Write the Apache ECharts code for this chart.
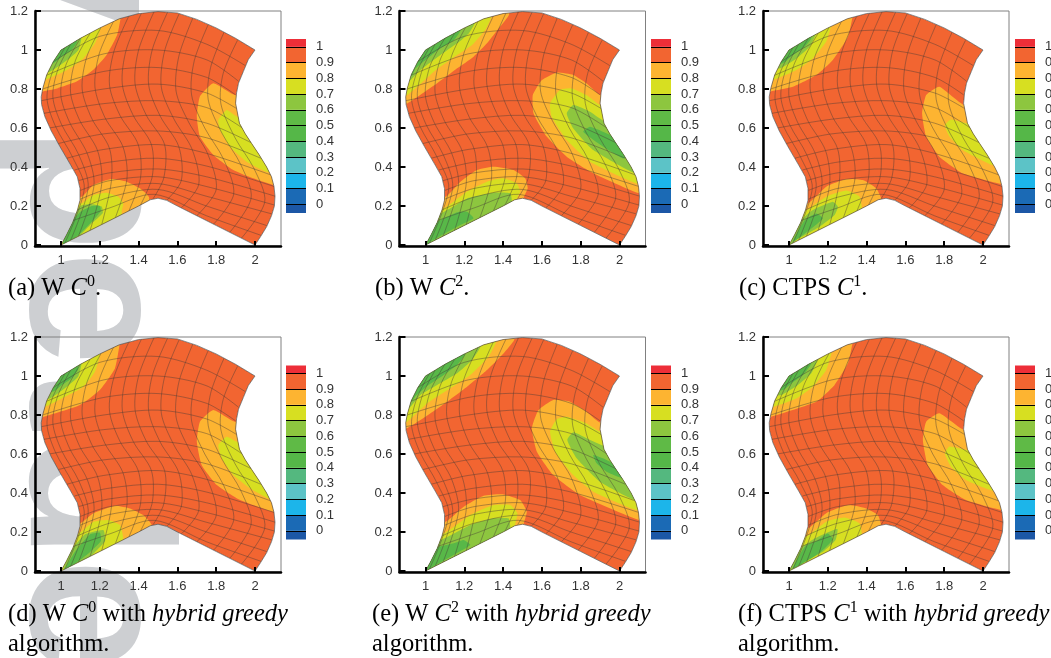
<!DOCTYPE html>
<html><head><meta charset="utf-8"><style>html,body{margin:0;padding:0;background:#fff}#c{width:1051px;height:658px}</style>
<script src="https://cdn.jsdelivr.net/npm/echarts@6/dist/echarts.min.js"></script></head><body><div id="c"></div>
<script>
const xTicks=[1,1.2,1.4,1.6,1.8,2];
const yTicks=[0,0.2,0.4,0.6,0.8,1,1.2];
const legendLevels=[0,0.1,0.2,0.3,0.4,0.5,0.6,0.7,0.8,0.9,1];
const legendBands=[[-0.055,0,'#1c57a6'],[0,0.1,'#1b6ab5'],[0.1,0.2,'#1cb5ea'],[0.2,0.3,'#5cc3c7'],[0.3,0.4,'#54b87f'],[0.4,0.5,'#55b748'],[0.5,0.6,'#5fba46'],[0.6,0.7,'#8dc63f'],[0.7,0.8,'#d7df21'],[0.8,0.9,'#fdb431'],[0.9,1,'#f26531'],[1,1.05,'#ed2e38']];
const levelColors={o:'#fdb431',y:'#d7df21',l:'#8dc63f',g:'#58b848'};
const baseColor='#f26531';
const outlineTop=[[1,1],[1.05,1.03],[1.1,1.06],[1.2,1.113],[1.3,1.16],[1.4,1.187],[1.5,1.197],[1.6,1.19],[1.7,1.157],[1.8,1.113],[1.9,1.06]];
const outlineRight=[[2,1],[1.965,.95],[1.94,.89],[1.915,.83],[1.905,.78],[1.9,.727],[1.92,.624],[1.95,.57],[1.983,.52],[2.02,.465],[2.06,.4],[2.085,.35],[2.098,.30],[2.103,.25],[2.10,.2],[2.085,.15],[2.06,.094],[2.03,.045]];
const outlineBottom=[[2,0],[1.8,.1],[1.6,.2],[1.545,.229],[1.5,.24],[1.46,.232],[1.4,.2],[1.2,.1]];
const outlineLeft=[[1,0],[1.03,.055],[1.06,.115],[1.085,.18],[1.098,.23],[1.098,.29],[1.084,.35],[1.05,.41],[.995,.504],[.95,.585],[.917,.658],[.9,.72],[.898,.76],[.906,.803],[.926,.872],[.96,.94]];
const meshRows=[
[[.96,.94],[1.2,1.07],[1.5,1.10],[1.75,1.03],[1.95,.92]],
[[.925,.87],[1.22,.98],[1.5,1.0],[1.75,.95],[1.915,.84]],
[[.905,.80],[1.22,.89],[1.5,.91],[1.75,.86],[1.90,.77]],
[[.898,.74],[1.22,.80],[1.5,.825],[1.75,.78],[1.905,.70]],
[[.91,.675],[1.22,.725],[1.5,.74],[1.75,.705],[1.935,.60]],
[[.94,.60],[1.22,.645],[1.5,.665],[1.75,.625],[1.98,.525]],
[[.985,.52],[1.22,.57],[1.5,.585],[1.75,.55],[2.03,.445]],
[[1.03,.445],[1.22,.49],[1.5,.515],[1.75,.47],[2.08,.36]],
[[1.07,.385],[1.25,.425],[1.5,.445],[1.75,.405],[2.10,.30]],
[[1.09,.33],[1.25,.37],[1.5,.39],[1.75,.35],[2.105,.25]],
[[1.10,.28],[1.25,.33],[1.5,.35],[1.75,.30],[2.10,.205]],
[[1.10,.235],[1.25,.29],[1.5,.315],[1.75,.25],[2.085,.16]],
[[1.085,.18],[1.25,.245],[1.5,.285],[1.75,.20],[2.06,.10]],
[[1.06,.125],[1.25,.19],[1.48,.26],[1.75,.15],[2.03,.05]]];
const meshCols=[
[[1.02,1.012],[.955,.885],[.928,.75],[.971,.61],[1.06,.45],[1.12,.29],[1.02,.01]],
[[1.05,1.03],[.984,.90],[.958,.76],[1.002,.62],[1.093,.46],[1.14,.295],[1.05,.025]],
[[1.10,1.06],[1.024,.92],[.999,.77],[1.044,.63],[1.135,.47],[1.17,.305],[1.09,.045]],
[[1.15,1.085],[1.074,.945],[1.049,.785],[1.096,.64],[1.188,.485],[1.21,.315],[1.15,.075]],
[[1.205,1.113],[1.133,.965],[1.109,.80],[1.158,.65],[1.25,.495],[1.26,.33],[1.21,.105]],
[[1.27,1.145],[1.197,.98],[1.175,.81],[1.226,.655],[1.319,.505],[1.34,.34],[1.28,.14]],
[[1.35,1.175],[1.272,.99],[1.25,.82],[1.304,.665],[1.398,.515],[1.41,.345],[1.35,.175]],
[[1.415,1.19],[1.336,1.0],[1.316,.825],[1.372,.665],[1.466,.515],[1.47,.35],[1.41,.205]],
[[1.48,1.197],[1.40,1.0],[1.382,.825],[1.44,.665],[1.534,.515],[1.53,.345],[1.475,.238]],
[[1.55,1.195],[1.47,1.0],[1.452,.82],[1.512,.66],[1.607,.505],[1.62,.33],[1.545,.23]],
[[1.61,1.188],[1.534,.995],[1.517,.81],[1.58,.65],[1.676,.49],[1.71,.31],[1.62,.19]],
[[1.68,1.165],[1.608,.97],[1.593,.79],[1.658,.63],[1.755,.47],[1.80,.285],[1.70,.15]],
[[1.76,1.133],[1.687,.945],[1.673,.77],[1.741,.60],[1.838,.44],[1.89,.26],[1.785,.105]],
[[1.84,1.09],[1.771,.91],[1.759,.745],[1.829,.575],[1.928,.41],[1.98,.24],[1.87,.065]],
[[1.91,1.05],[1.836,.88],[1.824,.725],[1.897,.55],[1.996,.39],[2.05,.22],[1.93,.035]]];
const bandsA=[
['o','T',[[1.31,1.18],[1.29,1.08],[1.235,.975],[1.165,.897],[1.08,.838],[.98,.803],[.89,.785]]],
['y','T',[[1.21,1.13],[1.175,1.034],[1.115,.957],[1.03,.897],[.918,.846]]],
['l','T',[[1.107,1.07],[1.09,1.0],[1.038,.952],[.943,.889]]],
['g','T',[[1.084,1.043],[1.055,1.0],[1.003,.966],[.96,.932]]],
['o','R',[[1.897,.769],[1.785,.829],[1.716,.761],[1.70,.658],[1.716,.556],[1.785,.462],[1.888,.385],[1.991,.342],[2.095,.308]]],
['y','R',[[1.909,.658],[1.854,.692],[1.811,.641],[1.82,.59],[1.871,.504],[1.957,.427],[2.06,.376]]],
['o','B',[[1.107,.248],[1.167,.308],[1.261,.338],[1.338,.325],[1.407,.291],[1.454,.244]]],
['y','B',[[1.107,.214],[1.167,.256],[1.235,.268],[1.296,.248],[1.321,.214],[1.313,.171]]],
['l','C',[[1.15,.21],[1.21,.197],[1.215,.163],[1.158,.111],[1.09,.043],[1.012,0],[1.055,.13],[1.1,.2]]],
['g','C',[[1.16,.2],[1.2,.2],[1.205,.175],[1.16,.12],[1.09,.05],[1.01,.005],[1.04,.1],[1.1,.17]]]];
const bandsB=[
['o','T',[[1.43,1.18],[1.385,1.12],[1.317,1.034],[1.248,.966],[1.163,.906],[1.06,.829],[.906,.726]]],
['y','T',[[1.339,1.168],[1.308,1.103],[1.24,1.026],[1.163,.974],[1.043,.889],[.906,.769]]],
['l','T',[[1.257,1.145],[1.223,1.085],[1.163,1.034],[1.077,.974],[.974,.897],[.914,.838]]],
['g','T',[[1.18,1.10],[1.146,1.05],[1.077,1.009],[1.0,.949],[.949,.906],[.93,.87]]],
['o','R',[[1.902,.769],[1.83,.829],[1.762,.872],[1.676,.884],[1.6,.846],[1.553,.769],[1.557,.675],[1.625,.556],[1.728,.453],[1.865,.368],[2.1,.265]]],
['y','R',[[1.902,.718],[1.83,.769],[1.753,.803],[1.693,.795],[1.642,.726],[1.65,.658],[1.728,.538],[1.848,.427],[2.087,.316]]],
['l','R',[[1.93,.632],[1.848,.684],[1.762,.718],[1.728,.675],[1.762,.598],[1.865,.487],[2.079,.368]]],
['g','C',[[1.848,.607],[1.967,.556],[2.06,.47],[2.019,.444],[1.916,.504],[1.813,.581]]],
['o','B',[[1.103,.248],[1.18,.325],[1.265,.385],[1.351,.402],[1.454,.385],[1.514,.342],[1.527,.291],[1.505,.239]]],
['y','B',[[1.094,.188],[1.214,.274],[1.317,.325],[1.402,.342],[1.471,.316],[1.488,.274],[1.471,.234]]],
['l','B',[[1.077,.162],[1.214,.239],[1.351,.268],[1.437,.265],[1.445,.226]]],
['g','C',[[1.051,.111],[1.163,.168],[1.214,.171],[1.248,.137],[1.163,.094],[1.026,.017],[1,-.01]]]];
const bandsC=[
['o','T',[[1.329,1.18],[1.304,1.068],[1.226,.949],[1.141,.872],[1.02,.812],[.89,.786]]],
['y','T',[[1.218,1.13],[1.192,1.043],[1.123,.957],[1.038,.897],[.918,.846]]],
['l','T',[[1.141,1.09],[1.106,1.017],[1.038,.957],[.952,.906]]],
['g','T',[[1.115,1.06],[1.081,1.017],[1.02,.974],[.969,.932]]],
['o','R',[[1.904,.718],[1.775,.812],[1.707,.769],[1.686,.675],[1.707,.556],[1.775,.453],[1.895,.368],[2.093,.313]]],
['y','R',[[1.921,.624],[1.835,.644],[1.804,.615],[1.827,.556],[1.895,.487],[2.05,.41]]],
['o','B',[[1.098,.214],[1.192,.299],[1.295,.338],[1.381,.333],[1.449,.291],[1.475,.239]]],
['y','B',[[1.089,.18],[1.192,.248],[1.295,.279],[1.364,.248],[1.376,.188]]],
['l','C',[[1.063,.128],[1.123,.18],[1.226,.222],[1.252,.197],[1.235,.154],[1.158,.094],[1.038,.026],[1,-.01]]],
['g','C',[[1.081,.128],[1.141,.162],[1.175,.137],[1.106,.077],[1.02,.017]]]];
const bandsD=[
['o','T',[[1.304,1.176],[1.278,1.039],[1.2,.928],[1.098,.851],[.89,.785]]],
['y','T',[[1.206,1.13],[1.175,1.022],[1.115,.945],[1.021,.894],[.918,.843]]],
['l','T',[[1.107,1.07],[1.089,.997],[1.03,.945],[.943,.885]]],
['g','T',[[1.089,1.036],[1.055,.988],[1.0,.95],[.96,.92]]],
['o','R',[[1.897,.766],[1.785,.826],[1.716,.766],[1.70,.663],[1.725,.544],[1.803,.441],[1.923,.364],[2.095,.304]]],
['y','R',[[1.909,.663],[1.854,.689],[1.811,.646],[1.828,.578],[1.888,.492],[1.974,.424],[2.069,.373]]],
['o','B',[[1.098,.244],[1.167,.296],[1.278,.335],[1.356,.321],[1.424,.287],[1.467,.236]]],
['y','B',[[1.09,.193],[1.167,.253],[1.244,.262],[1.304,.236],[1.321,.168]]],
['l','C',[[1.124,.188],[1.218,.21],[1.227,.154],[1.14,.065],[1.012,0],[1.055,.108]]],
['g','C',[[1.15,.188],[1.2,.197],[1.206,.154],[1.132,.082],[1.02,.005],[1.072,.099]]]];
const bandsE=[
['o','T',[[1.457,1.185],[1.402,1.116],[1.317,1.031],[1.214,.945],[1.077,.843],[.906,.732]]],
['y','T',[[1.363,1.173],[1.325,1.099],[1.231,1.005],[1.128,.937],[1.009,.86],[.906,.766]]],
['l','T',[[1.283,1.15],[1.24,1.082],[1.163,1.014],[1.06,.954],[.974,.903],[.914,.834]]],
['g','T',[[1.205,1.116],[1.163,1.056],[1.094,1.005],[1.009,.949],[.949,.897],[.93,.87]]],
['o','R',[[1.902,.761],[1.83,.817],[1.745,.868],[1.659,.877],[1.582,.825],[1.548,.732],[1.574,.612],[1.659,.492],[1.796,.39],[2.1,.262]]],
['y','R',[[1.902,.715],[1.83,.757],[1.728,.791],[1.676,.778],[1.642,.715],[1.668,.612],[1.762,.492],[1.865,.407],[2.087,.313]]],
['l','R',[[1.925,.641],[1.848,.672],[1.762,.711],[1.731,.672],[1.779,.578],[1.899,.458],[2.079,.364]]],
['g','C',[[1.865,.595],[1.95,.561],[2.04,.467],[1.933,.509],[1.882,.552]]],
['o','B',[[1.103,.253],[1.197,.33],[1.3,.386],[1.402,.393],[1.488,.364],[1.522,.304],[1.505,.236]]],
['y','B',[[1.094,.193],[1.231,.287],[1.351,.338],[1.437,.338],[1.474,.296],[1.462,.236]]],
['l','B',[[1.077,.159],[1.231,.236],[1.351,.27],[1.428,.27],[1.437,.227]]],
['g','C',[[1.051,.116],[1.154,.145],[1.197,.159],[1.231,.133],[1.145,.082],[1.009,.005],[1,-.01]]]];
const bandsF=[
['o','T',[[1.329,1.18],[1.304,1.065],[1.235,.954],[1.141,.868],[.89,.786]]],
['y','T',[[1.221,1.13],[1.192,1.031],[1.123,.945],[1.038,.885],[.921,.843]]],
['l','T',[[1.149,1.09],[1.115,1.014],[1.046,.954],[.96,.903]]],
['g','T',[[1.115,1.065],[1.072,1.005],[1.012,.962],[.969,.928]]],
['o','R',[[1.904,.723],[1.775,.809],[1.707,.766],[1.69,.672],[1.715,.544],[1.792,.441],[1.912,.364],[2.093,.313]]],
['y','R',[[1.918,.62],[1.827,.638],[1.804,.603],[1.835,.535],[1.912,.467],[2.05,.412]]],
['o','B',[[1.098,.219],[1.192,.296],[1.304,.338],[1.398,.321],[1.458,.287],[1.475,.236]]],
['y','B',[[1.086,.176],[1.192,.253],[1.286,.274],[1.364,.244],[1.376,.185]]],
['l','C',[[1.055,.111],[1.123,.162],[1.249,.215],[1.24,.159],[1.175,.099],[1.029,.022],[1,-.01]]],
['g','C',[[1.081,.125],[1.141,.154],[1.2,.193],[1.226,.162],[1.158,.094],[1.02,.012]]]];
const captions=[
'{n|(a) W }{i|C}{s|0}{n|.}','{n|(b) W }{i|C}{s|2}{n|.}','{n|(c) CTPS }{i|C}{s|1}{n|.}',
'{n|(d) W }{i|C}{s|0}{n| with }{i|hybrid greedy}\n{n|algorithm.}',
'{n|(e) W }{i|C}{s|2}{n| with }{i|hybrid greedy}\n{n|algorithm.}',
'{n|(f) CTPS }{i|C}{s|1}{n| with }{i|hybrid greedy}\n{n|algorithm.}'];
const watermarkParts=['v','petde'];

const gridLefts=[35,399.5,763,35,399.5,763];
const legendLefts=[286,651,1015,286,651,1015];
const captionPos=[[8,274],[375,274],[739,274],[8,600],[372,600],[738,600]];
const watermarkPos=[[190,-84],[190,126]];
const allBands=[bandsA,bandsB,bandsC,bandsD,bandsE,bandsF];
const outline=outlineTop.concat(outlineRight,outlineBottom,outlineLeft);

function closeBand(kind,p){
  const a=p[0],b=p[p.length-1];
  if(kind==='T')return p.concat([[.85,b[1]],[.85,1.25],[a[0],1.25]]);
  if(kind==='R')return p.concat([[2.2,b[1]],[2.2,a[1]]]);
  if(kind==='B')return p.concat([[b[0],-.05],[.95,-.05],[.95,a[1]]]);
  return p;
}
const grid=[],xAxis=[],yAxis=[],series=[];
allBands.forEach((bands,k)=>{
  const top=k<3?11:337;
  grid.push({left:gridLefts[k],top:top,width:246,height:235,outerBoundsMode:'none',show:true,borderColor:'#808080',borderWidth:1,backgroundColor:'transparent'});
  xAxis.push({type:'value',gridIndex:grid.length-1,min:.866,max:2.134,z:10,splitLine:{show:false},
    axisLine:{onZero:false,lineStyle:{color:'#000',width:2.5}},
    axisTick:{inside:true,length:5,lineStyle:{color:'#000',width:2},customValues:xTicks},
    axisLabel:{customValues:xTicks,margin:8,color:'#333',fontFamily:'Liberation Sans',fontSize:13}});
  yAxis.push({type:'value',gridIndex:grid.length-1,min:-.005,max:1.2,z:10,splitLine:{show:false},
    axisLine:{onZero:false,lineStyle:{color:'#000',width:2.5}},
    axisTick:{inside:true,length:6,lineStyle:{color:'#000',width:2},customValues:yTicks},
    axisLabel:{customValues:yTicks,margin:7,color:'#333',fontFamily:'Liberation Sans',fontSize:13}});
  const gi=grid.length-1;
  const polyItems=[{c:baseColor,p:outline,smooth:0}].concat(bands.map(b=>({c:levelColors[b[0]],p:closeBand(b[1],b[2]),smooth:.15})));
  series.push({type:'custom',coordinateSystem:'cartesian2d',xAxisIndex:gi,yAxisIndex:gi,silent:true,clip:false,z:2,
    data:polyItems.map((_,i)=>[i]),
    renderItem(params,api){
      const it=polyItems[params.dataIndex];
      return {type:'polygon',shape:{points:it.p.map(q=>api.coord(q)),smooth:it.smooth},style:{fill:it.c,stroke:null},
        clipPath:{type:'polygon',shape:{points:outline.map(q=>api.coord(q))}}};
    }});
  const lines=meshRows.concat(meshCols);
  series.push({type:'custom',coordinateSystem:'cartesian2d',xAxisIndex:gi,yAxisIndex:gi,silent:true,clip:false,z:3,
    data:lines.map((_,i)=>[i]),
    renderItem(params,api){
      return {type:'polyline',shape:{points:lines[params.dataIndex].map(q=>api.coord(q)),smooth:.3},style:{fill:null,stroke:'rgba(70,60,55,.62)',lineWidth:.7},
        clipPath:{type:'polygon',shape:{points:outline.map(q=>api.coord(q))}}};
    }});
  series.push({type:'custom',coordinateSystem:'cartesian2d',xAxisIndex:gi,yAxisIndex:gi,silent:true,clip:false,z:4,
    data:[[0]],
    renderItem(params,api){
      return {type:'polygon',shape:{points:outline.map(q=>api.coord(q))},style:{fill:null,stroke:'rgba(70,70,70,.8)',lineWidth:.8}};
    }});
  // colour bar
  const lTop=k<3?39:365.5;
  grid.push({left:legendLefts[k],top:lTop,width:20,height:174,outerBoundsMode:'none'});
  const lg=grid.length-1;
  xAxis.push({type:'value',gridIndex:lg,min:0,max:1,show:false});
  yAxis.push({type:'value',gridIndex:lg,min:-.055,max:1.05,position:'right',z:10,splitLine:{show:false},
    axisLine:{show:false,onZero:false},
    axisTick:{inside:true,length:20,lineStyle:{color:'#000',width:1},customValues:legendLevels},
    axisLabel:{customValues:legendLevels,margin:10,color:'#333',fontFamily:'Liberation Sans',fontSize:13,padding:[7,0,0,0]}});
  series.push({type:'custom',coordinateSystem:'cartesian2d',xAxisIndex:lg,yAxisIndex:lg,silent:true,z:2,
    data:legendBands.map((b,i)=>[i]),
    renderItem(params,api){
      const b=legendBands[params.dataIndex];
      const p0=api.coord([0,b[1]]),p1=api.coord([1,b[0]]);
      return {type:'rect',shape:{x:p0[0],y:p0[1],width:p1[0]-p0[0],height:p1[1]-p0[1]},style:{fill:b[2]}};
    }});
});
const rich={
 n:{fontFamily:'Liberation Serif',fontSize:24.5,color:'#2e2e2e',lineHeight:30},
 i:{fontFamily:'Liberation Serif',fontStyle:'italic',fontSize:24.5,color:'#2e2e2e',lineHeight:30},
 s:{fontFamily:'Liberation Serif',fontSize:16,color:'#2e2e2e',lineHeight:30,verticalAlign:'top'}};
const graphic=watermarkParts.map((t,i)=>({type:'text',z:-10,x:watermarkPos[i][0],y:watermarkPos[i][1],rotation:-Math.PI/2,style:{text:t,font:'bold 205px "Liberation Sans"',fill:'#cdcfd2'},silent:true}));
captions.forEach((t,i)=>graphic.push({type:'text',x:captionPos[i][0],y:captionPos[i][1],silent:true,style:{text:t,rich:rich,font:'24.5px "Liberation Serif"'}}));
const chart=echarts.init(document.getElementById('c'),null,{renderer:'canvas'});
chart.setOption({animation:false,grid,xAxis,yAxis,series,graphic});
</script></body></html>
